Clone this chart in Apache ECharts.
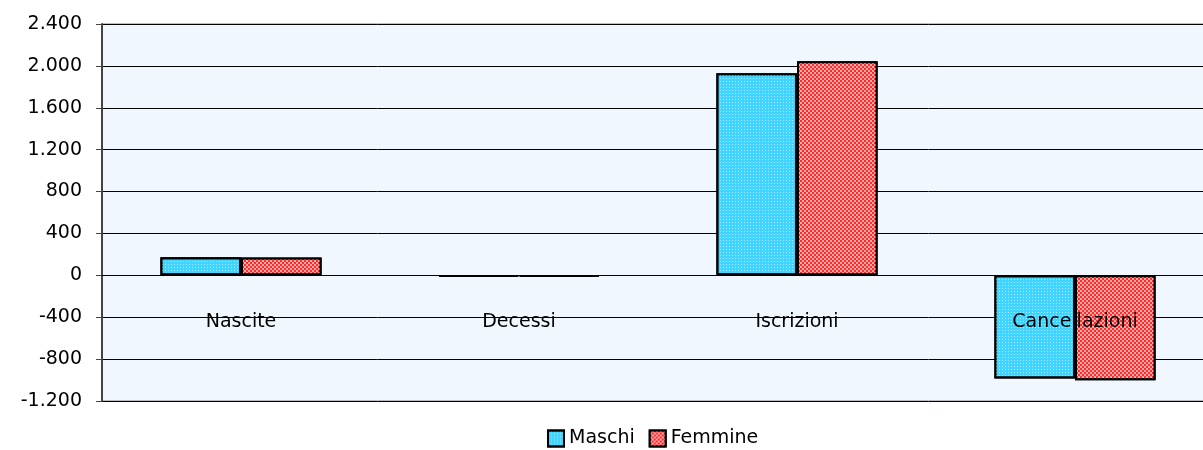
<!DOCTYPE html>
<html>
<head>
<meta charset="utf-8">
<script src="https://cdn.jsdelivr.net/npm/echarts@6/dist/echarts.min.js"></script>
<style>
  html, body { margin: 0; padding: 0; background: #fff; }
  #chart { width: 1203px; height: 450px; }
</style>
</head>
<body>
<div id="chart"></div>
<script>
// dati
var categories = ["Nascite", "Decessi", "Iscrizioni", "Cancellazioni"];
var maschi = [172, -14, 1929, -984];
var femmine = [170, -12, 2044, -1002];
var yTicks = { min: -1200, max: 2400, step: 400 };

var FONT = "DejaVu Sans";
var GRID_TOP = 24, GRID_BOTTOM = 49, H = 450;

function fmt(v) {
  var s = String(Math.abs(v)).replace(/\B(?=(\d{3})+(?!\d))/g, ".");
  return (v < 0 ? "-" : "") + s;
}

// asse delle categorie sullo zero (onZero non viene applicato qui)
var gridH = H - GRID_TOP - GRID_BOTTOM;
var zeroOffset = -(0 - yTicks.min) / (yTicks.max - yTicks.min) * gridH;

var myChart = echarts.init(document.getElementById("chart"));
myChart.setOption({
  animation: false,
  backgroundColor: "#fff",
  grid: {
    left: 102,
    top: GRID_TOP,
    bottom: GRID_BOTTOM,
    width: 1112,
    outerBoundsMode: "none",
    containLabel: false,
    show: true,
    backgroundColor: "#F0F7FF",
    borderColor: "#808080",
    borderWidth: 1
  },
  legend: {
    bottom: -3,
    left: 542,
    icon: "rect",
    itemWidth: 16,
    itemHeight: 16,
    itemGap: 14,
    textStyle: { fontFamily: FONT, fontSize: 19, color: "#000" },
    data: ["Maschi", "Femmine"]
  },
  xAxis: {
    type: "category",
    data: categories,
    z: 10,
    offset: zeroOffset,
    axisLine: { onZero: false, lineStyle: { color: "#000", width: 1 } },
    axisTick: { length: 10, lineStyle: { color: "#000" } },
    axisLabel: { margin: 37, fontFamily: FONT, fontSize: 19, color: "#000" }
  },
  yAxis: {
    type: "value",
    min: yTicks.min,
    max: yTicks.max,
    interval: yTicks.step,
    axisLine: { show: true, lineStyle: { color: "#444", width: 2 } },
    axisTick: { show: true, length: 6, lineStyle: { color: "#444" } },
    splitLine: { lineStyle: { color: "#000", width: 1 } },
    axisLabel: {
      margin: 20,
      fontFamily: FONT,
      fontSize: 19,
      color: "#000",
      formatter: fmt
    }
  },
  series: [
    {
      name: "Maschi",
      type: "bar",
      data: maschi,
      barGap: "0%",
      barCategoryGap: "42%",
      itemStyle: {
        color: "#40D4FF",
        borderColor: "#000",
        borderWidth: 2,
        decal: {
          symbol: "rect",
          symbolSize: 1,
          color: "rgba(255,255,255,0.55)",
          dashArrayX: [1, 2],
          dashArrayY: [1, 2],
          rotation: 0
        }
      }
    },
    {
      name: "Femmine",
      type: "bar",
      data: femmine,
      itemStyle: {
        color: "#FF2A2A",
        borderColor: "#000",
        borderWidth: 2,
        decal: {
          symbol: "rect",
          symbolSize: 1,
          color: "rgba(255,255,255,0.6)",
          dashArrayX: [[2, 2], [0, 2, 2, 0]],
          dashArrayY: [2, 0],
          rotation: 0
        }
      }
    }
  ]
});
window.addEventListener("resize", function() {
  myChart.resize();
});
</script>
</body>
</html>
